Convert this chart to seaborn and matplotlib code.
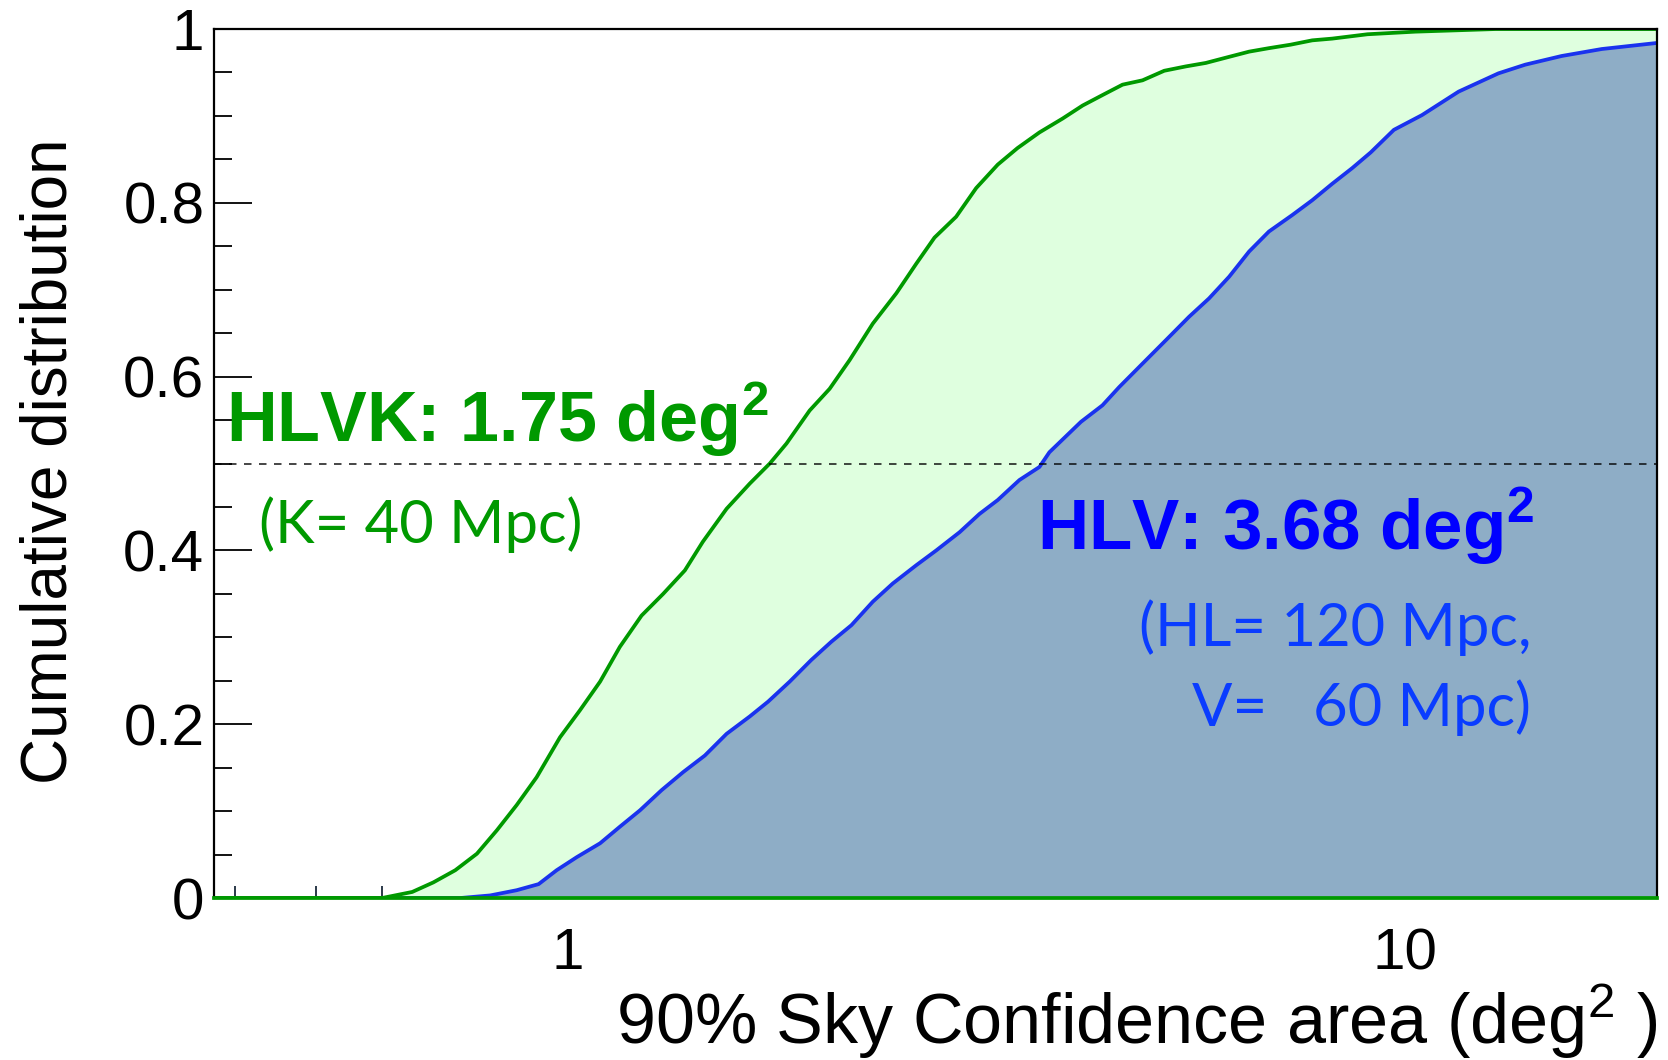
import matplotlib
matplotlib.use("Agg")
import matplotlib.pyplot as plt
import matplotlib.ticker as mticker
import numpy as np
import pandas as pd
import seaborn as sns

# HLVK network (green), cumulative distribution of 90% sky area
hlvk_area = [0.378, 0.60, 0.652, 0.691, 0.734, 0.779, 0.823, 0.869, 0.918, 0.979,
             1.034, 1.093, 1.154, 1.225, 1.300, 1.380, 1.45, 1.548, 1.650, 1.743,
             1.825, 1.945, 2.055, 2.171, 2.314, 2.469, 2.608, 2.742, 2.910, 3.075,
             3.263, 3.445, 3.659, 3.900, 4.121, 4.352, 4.599, 4.859, 5.158, 5.473,
             5.783, 6.108, 6.514, 6.879, 7.301, 7.749, 8.188, 9.02, 10.29, 12.82, 20.0]
hlvk_cdf = [0.0, 0.0, 0.007, 0.018, 0.032, 0.051, 0.078, 0.107, 0.139, 0.185,
            0.216, 0.249, 0.289, 0.325, 0.350, 0.377, 0.410, 0.448, 0.477, 0.500,
            0.523, 0.561, 0.586, 0.619, 0.661, 0.696, 0.730, 0.760, 0.784, 0.817,
            0.844, 0.863, 0.881, 0.897, 0.912, 0.924, 0.936, 0.941, 0.952, 0.957,
            0.961, 0.967, 0.974, 0.978, 0.982, 0.987, 0.989, 0.994, 0.997, 1.0, 1.0]

# HLV network (blue)
hlv_area = [0.378, 0.744, 0.808, 0.869, 0.923, 0.970, 1.025, 1.093, 1.154, 1.220,
            1.294, 1.374, 1.458, 1.548, 1.650, 1.735, 1.841, 1.954, 2.065, 2.182,
            2.314, 2.445, 2.608, 2.755, 2.938, 3.103, 3.263, 3.463, 3.659, 3.761,
            4.102, 4.352, 4.557, 4.859, 5.182, 5.524, 5.834, 6.166, 6.514, 6.879,
            7.336, 7.749, 8.188, 8.65, 9.10, 9.70, 10.48, 11.59, 12.93, 13.92,
            15.39, 17.18, 20.0]
hlv_cdf = [0.0, 0.0, 0.003, 0.009, 0.016, 0.032, 0.047, 0.063, 0.082, 0.101,
           0.124, 0.145, 0.164, 0.189, 0.209, 0.226, 0.249, 0.274, 0.295, 0.314,
           0.341, 0.362, 0.383, 0.400, 0.421, 0.442, 0.458, 0.481, 0.496, 0.513,
           0.548, 0.567, 0.588, 0.615, 0.642, 0.669, 0.690, 0.715, 0.744, 0.767,
           0.786, 0.803, 0.822, 0.840, 0.858, 0.884, 0.901, 0.928, 0.949, 0.959,
           0.969, 0.977, 0.984]

X_RANGE = (0.378, 20.0)
Y_TICKS = [0, 0.2, 0.4, 0.6, 0.8, 1]
Y_TICK_LABELS = ["0", "0.2", "0.4", "0.6", "0.8", "1"]
X_TICKS = [1, 10]
X_TICK_LABELS = ["1", "10"]
MEDIAN_LEVEL = 0.5

GREEN = "#009900"
GREEN_FILL = "#dfffdf"
BLUE_LINE = "#1a33ee"
BLUE_FILL = "#8eadc6"
BLUE_TEXT = "#0000ff"
BLUE_NOTE = "#0a3cff"

sns.set_theme(style="ticks")
plt.rcParams["font.family"] = ["Liberation Sans", "DejaVu Sans"]
plt.rcParams["mathtext.fontset"] = "custom"
plt.rcParams["mathtext.rm"] = "Liberation Sans"
plt.rcParams["mathtext.bf"] = "Liberation Sans:bold"

hlvk = pd.DataFrame({"area": hlvk_area, "cdf": hlvk_cdf})
hlv = pd.DataFrame({"area": hlv_area, "cdf": hlv_cdf})

fig = plt.figure(figsize=(16.68, 10.60), dpi=100)
ax = fig.add_axes([0.1283, 0.1528, 0.8651, 0.8198])
ax.set_xscale("log")

ax.fill_between(hlvk["area"], hlvk["cdf"], 0, color=GREEN_FILL, lw=0, zorder=1)
ax.fill_between(hlv["area"], hlv["cdf"], 0, color=BLUE_FILL, lw=0, zorder=2)
sns.lineplot(data=hlv, x="area", y="cdf", ax=ax, color=BLUE_LINE, lw=2.7,
             sort=False, estimator=None, zorder=3)
sns.lineplot(data=hlvk, x="area", y="cdf", ax=ax, color=GREEN, lw=2.7,
             sort=False, estimator=None, zorder=4)
ax.axhline(MEDIAN_LEVEL, color="black", lw=1.2, ls=(0, (4.5, 4.5)), alpha=0.85, zorder=5)

ax.set_xlim(*X_RANGE)
ax.set_ylim(0, 1)

ax.set_yticks(Y_TICKS)
ax.set_yticklabels(Y_TICK_LABELS)
ax.yaxis.set_minor_locator(mticker.MultipleLocator(0.05))
ax.set_xticks(X_TICKS)
ax.set_xticklabels(X_TICK_LABELS)
ax.xaxis.set_minor_locator(mticker.LogLocator(base=10, subs=np.arange(2, 10)))
ax.xaxis.set_minor_formatter(mticker.NullFormatter())

ax.tick_params(axis="y", which="major", direction="in", length=27, width=1.3,
               labelsize=42, pad=7, color="black", labelcolor="black")
ax.tick_params(axis="y", which="minor", direction="in", length=13, width=1.3, color="black")
ax.tick_params(axis="x", which="major", direction="in", length=20, width=1.3,
               labelsize=42, pad=21, color="#1a2a3a", labelcolor="black")
ax.tick_params(axis="x", which="minor", direction="in", length=9, width=1.3, color="#1a2a3a")

for side in ["left", "bottom", "top", "right"]:
    ax.spines[side].set_visible(True)
    ax.spines[side].set_color("black")
    ax.spines[side].set_linewidth(1.6)
    ax.spines[side].set_zorder(6)
ax.spines["bottom"].set_color(GREEN)
ax.spines["bottom"].set_linewidth(2.7)

ax.set_ylabel("Cumulative distribution", fontsize=46, color="black")
ax.yaxis.set_label_coords(-0.093, 0.503)
ax.set_xlabel(r"90% Sky Confidence area (deg$^{2}$ )", fontsize=50.5, color="black",
              ha="right")
ax.xaxis.set_label_coords(1.0, -0.095)

ax.text(0.008, 0.525, r"HLVK: 1.75 deg$^\mathbf{2}$", transform=ax.transAxes,
        fontsize=50.5, fontweight="bold", color=GREEN, va="baseline", ha="left", zorder=7)
ax.text(0.031, 0.409, "(K= 40 Mpc)", transform=ax.transAxes, family=["Lato", "DejaVu Sans"],
        fontsize=43, color=GREEN, va="baseline", ha="left", zorder=7)
ax.text(0.915, 0.400, r"HLV: 3.68 deg$^\mathbf{2}$", transform=ax.transAxes,
        fontsize=51, fontweight="bold", color=BLUE_TEXT, va="baseline", ha="right", zorder=7)
ax.text(0.913, 0.290, "(HL= 120 Mpc,", transform=ax.transAxes, family=["Lato", "DejaVu Sans"],
        fontsize=43, color=BLUE_NOTE, va="baseline", ha="right", zorder=7)
ax.text(0.913, 0.198, "V=   60 Mpc)", transform=ax.transAxes, family=["Lato", "DejaVu Sans"],
        fontsize=43, color=BLUE_NOTE, va="baseline", ha="right", zorder=7)

fig.savefig("out.png", dpi=100, facecolor="white")
